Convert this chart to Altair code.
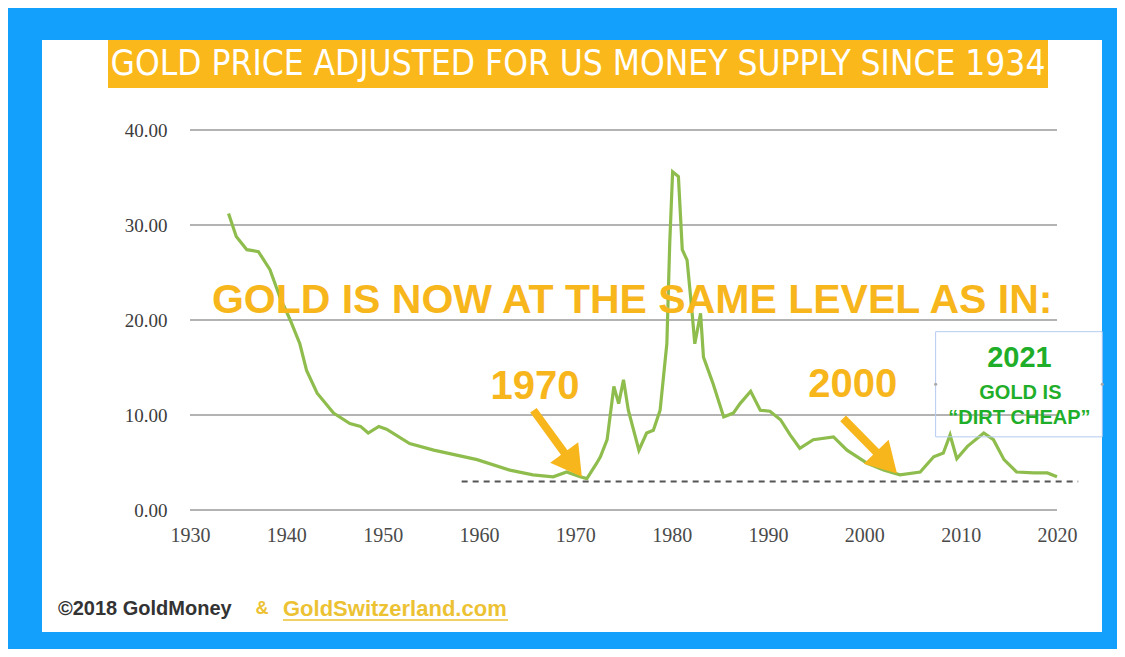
import altair as alt
import pandas as pd

# ---- data ----
years = [1934.0, 1934.8, 1935.9, 1937.1, 1938.3, 1939.3, 1940.4, 1941.4, 1942.1, 1943.2,
         1944.9, 1946.6, 1947.7, 1948.5, 1949.6, 1950.4, 1952.8, 1955.3, 1959.8, 1963.2,
         1965.6, 1967.7, 1969.1, 1970.5, 1971.2, 1972.2, 1972.6, 1973.3, 1974.0, 1974.5,
         1975.0, 1975.5, 1976.6, 1977.4, 1978.1, 1978.8, 1979.5, 1979.8, 1980.1, 1980.7,
         1981.1, 1981.6, 1982.1, 1982.4, 1983.0, 1983.3, 1984.3, 1985.4, 1986.4, 1987.1,
         1988.2, 1989.2, 1990.2, 1991.3, 1992.3, 1993.3, 1994.7, 1996.8, 1998.2, 2000.3,
         2002.0, 2003.7, 2005.8, 2007.2, 2008.2, 2008.9, 2009.6, 2010.7, 2012.4, 2013.4,
         2014.5, 2015.8, 2017.6, 2019.0, 2020.0]
values = [31.2, 28.8, 27.4, 27.2, 25.3, 22.5, 20.0, 17.5, 14.7, 12.3,
          10.2, 9.1, 8.8, 8.1, 8.8, 8.5, 7.0, 6.3, 5.3, 4.2,
          3.7, 3.5, 4.0, 3.5, 3.3, 4.9, 5.6, 7.4, 13.0, 11.2,
          13.7, 10.5, 6.3, 8.1, 8.4, 10.5, 17.5, 28.1, 35.6, 35.1,
          27.4, 26.3, 21.0, 17.5, 20.7, 16.1, 13.3, 9.8, 10.2, 11.2,
          12.5, 10.5, 10.4, 9.5, 7.9, 6.5, 7.4, 7.7, 6.3, 4.9,
          4.2, 3.7, 4.0, 5.6, 6.0, 7.9, 5.4, 6.7, 8.1, 7.4,
          5.3, 4.0, 3.9, 3.9, 3.5]

y_ticks = [0, 10, 20, 30, 40]
x_ticks = [1930, 1940, 1950, 1960, 1970, 1980, 1990, 2000, 2010, 2020]

title_text = "GOLD PRICE ADJUSTED FOR US MONEY SUPPLY SINCE 1934"
headline = "GOLD IS NOW AT THE SAME LEVEL AS IN:"
headline_pos = [1975.9, 22.0]

level_years = [1958.2, 2022.2]
level_value = 3.0

year_labels = ["1970", "2000"]
year_label_x = [1965.8, 1998.8]
year_label_y = [12.9, 13.2]

arrow_x0 = [1965.65, 1997.8]
arrow_y0 = [10.5, 9.65]
arrow_x1 = [1969.76, 2002.31]
arrow_y1 = [4.78, 4.99]
arrow_angle = [144, 136]

box_x = [2007.4, 2024.7]
box_y = [7.7, 18.77]
box_lines = ["2021", "GOLD IS", "\u201cDIRT CHEAP\u201d"]
box_line_x = [2016.1, 2016.2, 2016.1]
box_line_y = [16.0, 12.35, 9.65]
box_line_size = [29, 20, 20]

footer_left = "\u00a92018 GoldMoney"
footer_amp = "&"
footer_link = "GoldSwitzerland.com"

ORANGE = "#f7b61c"
GREEN = "#1fae2a"
LINE = "#8fbd4d"

W, H = 867, 380
one = pd.DataFrame({"a": [0]})

x_enc = alt.X("year:Q", scale=alt.Scale(domain=[1930, 2020], nice=False, zero=False),
              axis=alt.Axis(values=x_ticks, format="d", title=None, grid=False, ticks=False,
                            domain=False, labelFont="Liberation Serif", labelFontSize=20,
                            labelColor="#4a4a4a", labelPadding=15, labelFlush=False, zindex=1))
y_enc = alt.Y("value:Q", scale=alt.Scale(domain=[0, 40], nice=False),
              axis=alt.Axis(values=y_ticks, format=".2f", title=None, grid=False, ticks=False,
                            domain=False, labelFont="Liberation Serif", labelFontSize=19,
                            labelColor="#3c3c3c", labelPadding=23, labelFlush=False, zindex=1))

panel = alt.Chart(one).mark_rect(color="white").encode(
    x=alt.value(-148), x2=alt.value(912), y=alt.value(-90), y2=alt.value(502))
title_bar = alt.Chart(one).mark_rect(color="#fbb81a").encode(
    x=alt.value(-82), x2=alt.value(858), y=alt.value(-90), y2=alt.value(-42))
title = alt.Chart(one).mark_text(text=title_text, color="white", fontSize=35,
                                 font="Liberation Sans Narrow, DejaVu Sans Condensed, sans-serif",
                                 align="center", baseline="middle").encode(
    x=alt.value(388), y=alt.value(-66))

grid_df = pd.DataFrame({"value": y_ticks})
grid = alt.Chart(grid_df).mark_rule(color="#b3b3b3", strokeWidth=2).encode(
    y=y_enc, x=alt.datum(1930), x2=alt.datum(2020))

level_df = pd.DataFrame({"year": [level_years[0]], "year2": [level_years[1]], "value": [level_value]})
level = alt.Chart(level_df).mark_rule(color="#555555", strokeWidth=2, strokeDash=[6, 5]).encode(
    x=x_enc, x2="year2:Q", y="value:Q")

line_df = pd.DataFrame({"year": years, "value": values})
line = alt.Chart(line_df).mark_line(color=LINE, strokeWidth=3.2).encode(x=x_enc, y=y_enc)

head_df = pd.DataFrame({"t": [headline], "year": [headline_pos[0]], "value": [headline_pos[1]]})
head = alt.Chart(head_df).mark_text(color=ORANGE, fontSize=41, fontWeight="bold",
                                    font="Liberation Sans", align="center", baseline="middle").encode(
    x="year:Q", y="value:Q", text="t:N")

yl_df = pd.DataFrame({"t": year_labels, "year": year_label_x, "value": year_label_y})
ylab = alt.Chart(yl_df).mark_text(color=ORANGE, fontSize=40, fontWeight="bold",
                                  font="Liberation Sans", align="center", baseline="middle").encode(
    x="year:Q", y="value:Q", text="t:N")

arr_df = pd.DataFrame({"year": arrow_x0, "value": arrow_y0, "year2": arrow_x1,
                       "value2": arrow_y1, "ang": arrow_angle})
shaft = alt.Chart(arr_df).mark_rule(color=ORANGE, strokeWidth=8).encode(
    x="year:Q", y="value:Q", x2="year2:Q", y2="value2:Q")
arrowhead = alt.Chart(arr_df).mark_point(shape="triangle-up", filled=True, color=ORANGE,
                                          size=1200, opacity=1, strokeWidth=0).encode(
    x="year2:Q", y="value2:Q", angle=alt.Angle("ang:Q", scale=None))

box_df = pd.DataFrame({"year": [box_x[0]], "year2": [box_x[1]], "value": [box_y[0]], "value2": [box_y[1]]})
box = alt.Chart(box_df).mark_rect(fillOpacity=0, stroke="#b5cbf0", strokeWidth=1).encode(
    x="year:Q", x2="year2:Q", y="value:Q", y2="value2:Q")
handles_df = pd.DataFrame({"year": box_x, "value": [(box_y[0] + box_y[1]) / 2] * 2})
handles = alt.Chart(handles_df).mark_point(filled=True, color="#aaaaaa", size=10, opacity=1).encode(
    x="year:Q", y="value:Q")

bt_df = pd.DataFrame({"t": box_lines, "year": box_line_x, "value": box_line_y, "s": box_line_size})
btext = alt.Chart(bt_df).mark_text(color=GREEN, fontWeight="bold", font="Liberation Sans",
                                   align="center", baseline="middle").encode(
    x="year:Q", y="value:Q", text="t:N", size=alt.Size("s:Q", scale=None))

f1 = alt.Chart(one).mark_text(text=footer_left, color="#333333", fontSize=20, fontWeight="bold",
                              font="Liberation Sans", align="left",
                              baseline="middle").encode(x=alt.value(-132), y=alt.value(479))
f2 = alt.Chart(one).mark_text(text=footer_amp, color="#ecc233", fontSize=18, fontWeight="bold",
                              font="Liberation Sans", align="center",
                              baseline="middle").encode(x=alt.value(72), y=alt.value(479))
f3 = alt.Chart(one).mark_text(text=footer_link, color="#ecc233", fontSize=22, fontWeight="bold",
                              font="Liberation Sans", align="left",
                              baseline="middle").encode(x=alt.value(93), y=alt.value(479))
uline = alt.Chart(one).mark_rule(color="#ecc233", strokeWidth=1.5).encode(
    x=alt.value(93), x2=alt.value(318), y=alt.value(490))

chart = alt.layer(panel, title_bar, title, grid, level, line, head, ylab, shaft, arrowhead,
                  box, handles, btext, f1, f2, f3, uline).properties(
    width=W, height=H, background="#13a0fd",
    padding={"left": 182, "top": 122, "right": 60, "bottom": 139},
    autosize=alt.AutoSizeParams(type="none"),
).configure_view(stroke=None)

chart.save("out.html", embed_options={"renderer": "svg", "actions": False})
